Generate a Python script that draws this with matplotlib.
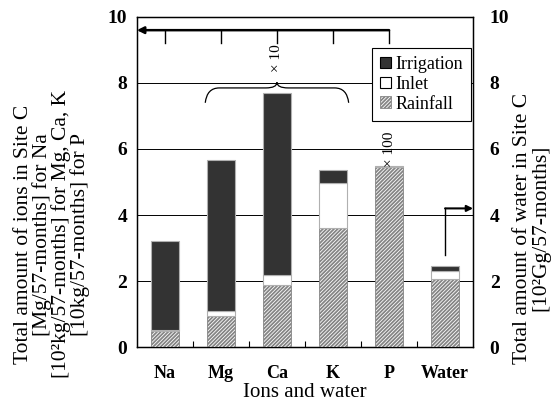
import numpy as np
import matplotlib
matplotlib.use("Agg")
import matplotlib.pyplot as plt
from matplotlib.path import Path
from matplotlib.patches import PathPatch

# values (stacked: rainfall, inlet, irrigation)
categories = ["Na", "Mg", "Ca", "K", "P", "Water"]
rainfall = [0.48, 0.95, 1.88, 3.60, 5.44, 2.05]
inlet = [0.05, 0.14, 0.30, 1.36, 0.00, 0.26]
irrigation = [2.68, 4.57, 5.53, 0.39, 0.04, 0.14]
yticks = [0, 2, 4, 6, 8, 10]

plt.rcParams['font.family'] = ['Liberation Serif', 'DejaVu Serif']
plt.rcParams['hatch.linewidth'] = 1.3

fig = plt.figure(figsize=(5.52, 4.04), dpi=100)
ax = fig.add_axes([0.248, 0.141, 0.609, 0.817])

x = np.arange(len(categories))
rain = np.array(rainfall)
inl = np.array(inlet)
irr = np.array(irrigation)
w = 0.5

ax.bar(x, rain, w, color='white', edgecolor='#858585', hatch='/' * 9, linewidth=0.6,
       label='Rainfall', zorder=3)
ax.bar(x, inl, w, bottom=rain, color='white', edgecolor='#b0b0b0', linewidth=0.8,
       label='Inlet', zorder=3)
ax.bar(x, irr, w, bottom=rain + inl, color='#333333', edgecolor='#b0b0b0', linewidth=0.8,
       label='Irrigation', zorder=3)

ax.set_xlim(-0.5, len(categories) - 0.5)
ax.set_ylim(0, 10)
ax.set_yticks(yticks)
ax.set_yticklabels([str(v) for v in yticks], fontweight='bold', fontsize=14)
for v in yticks[1:-1]:
    ax.axhline(v, color='black', lw=0.7, zorder=1)
ax.tick_params(axis='y', length=0, pad=7)
ax.set_xticks(x)
ax.set_xticklabels(categories, fontweight='bold', fontsize=13)
ax.set_xticks(x[:-1] + 0.5, minor=True)
ax.tick_params(axis='x', which='major', length=0, pad=13)
ax.tick_params(axis='x', which='minor', direction='in', length=4, width=0.8)
ax.set_xlabel('Ions and water', fontsize=15, labelpad=1)
for s in ax.spines.values():
    s.set_linewidth(1.0)

ax2 = ax.twinx()
ax2.set_ylim(0, 10)
ax2.set_yticks(yticks)
ax2.set_yticklabels([str(v) for v in yticks], fontweight='bold', fontsize=14)
ax2.tick_params(axis='y', length=0, pad=12)

# bracket over Na..P pointing to left axis
ax.annotate('', xy=(-0.5, 9.6), xytext=(4, 9.6),
            arrowprops=dict(arrowstyle='-|>', color='black', lw=1.8, mutation_scale=10,
                            shrinkA=0, shrinkB=0))
for xi in x[:5]:
    ax.plot([xi, xi], [9.6, 9.2], color='black', lw=1.0)

# curly brace Mg..K
bx0, bx1, bc = 0.72, 3.28, 2.0
ylo, ymid, ytop = 7.4, 7.85, 8.02
verts = [(bx0, ylo), (bx0 + 0.03, ymid), (bx0 + 0.25, ymid), (bc - 0.2, ymid),
         (bc, ymid), (bc, ytop),
         (bc, ymid), (bc + 0.2, ymid), (bx1 - 0.25, ymid),
         (bx1 - 0.03, ymid), (bx1, ylo)]
codes = [Path.MOVETO, Path.CURVE3, Path.CURVE3, Path.LINETO,
         Path.CURVE3, Path.CURVE3,
         Path.CURVE3, Path.CURVE3, Path.LINETO,
         Path.CURVE3, Path.CURVE3]
ax.add_patch(PathPatch(Path(verts, codes), fill=False, lw=0.9, color='black', zorder=4))
ax.text(2, 8.75, '× 10', rotation=90, ha='center', va='center', fontsize=11)
ax.text(4, 6.0, '× 100', rotation=90, ha='center', va='center', fontsize=11)

# water arrow to the right axis
ax.plot([5, 5], [2.8, 4.2], color='black', lw=1.0)
ax.annotate('', xy=(5.5, 4.2), xytext=(5, 4.2),
            arrowprops=dict(arrowstyle='-|>', color='black', lw=1.5, mutation_scale=9,
                            shrinkA=0, shrinkB=0))

h, l = ax.get_legend_handles_labels()
leg = ax.legend(h[::-1], l[::-1], loc='upper right', bbox_to_anchor=(0.994, 0.906),
                fontsize=13, frameon=True, fancybox=False, edgecolor='black',
                handlelength=0.6, handleheight=0.6, handletextpad=0.25,
                labelspacing=0.15, borderpad=0.45, borderaxespad=0, framealpha=1)
leg.get_frame().set_linewidth(0.8)
for p in leg.get_patches()[:2]:
    p.set_edgecolor('black')
leg.set_zorder(5)

fig.text(0.094, 0.42,
         'Total amount of ions in Site C\n[Mg/57-months] for Na\n'
         '[10²kg/57-months] for Mg, Ca, K\n[10kg/57-months] for P',
         rotation=90, ha='center', va='center', fontsize=15.5, linespacing=0.93)
fig.text(0.963, 0.435, 'Total amount of water in Site C\n[10²Gg/57-months]',
         rotation=90, ha='center', va='center', fontsize=15.5, linespacing=0.93)

fig.savefig('out.png', dpi=100)
